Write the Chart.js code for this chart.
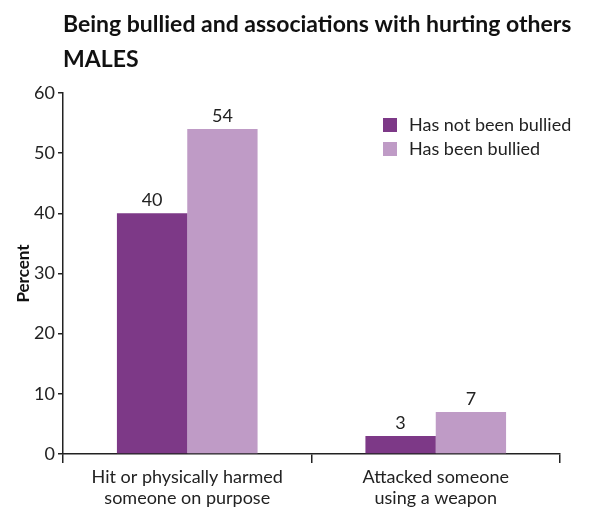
<!DOCTYPE html>
<html lang="en">
  <head>
    <meta charset="UTF-8" />
    <title>Being bullied and associations with hurting others</title>
    <style>
      body {
        margin: 0;
        background: #fff;
      }
      .chart-container {
        width: 589px;
        height: 509px;
      }
    </style>
  </head>
  <body>
    <div class="chart-container">
      <canvas id="bullyChart"></canvas>
    </div>

    <script src="https://cdn.jsdelivr.net/npm/chart.js"></script>
    <script>
      const categories = [
        ["Hit or physically harmed", "someone on purpose"],
        ["Attacked someone", "using a weapon"],
      ];
      const seriesNames = ["Has not been bullied", "Has been bullied"];
      const notBullied = [40, 3];
      const beenBullied = [54, 7];
      const yTicks = [0, 10, 20, 30, 40, 50, 60];

      const FONT = "Lato, 'Open Sans', sans-serif";
      const TEXT = "#222";

      // title lines, value labels above bars, and the legend box
      const extras = {
        id: "extras",
        afterDraw(chart) {
          const ctx = chart.ctx;
          const area = chart.chartArea;
          ctx.save();
          ctx.fillStyle = "#111";
          ctx.textAlign = "left";
          ctx.textBaseline = "alphabetic";
          ctx.font = "bold 23px " + FONT;
          ctx.fillText("Being bullied and associations with hurting others", area.left, 32);
          ctx.fillText("MALES", area.left, 67);

          ctx.fillStyle = TEXT;
          ctx.font = "18px " + FONT;
          ctx.textAlign = "center";
          ctx.textBaseline = "bottom";
          chart.data.datasets.forEach((ds, i) => {
            chart.getDatasetMeta(i).data.forEach((bar, j) => {
              ctx.fillText(ds.data[j], bar.x, bar.y - 4);
            });
          });

          ctx.textAlign = "left";
          ctx.textBaseline = "middle";
          chart.data.datasets.forEach((ds, i) => {
            const y = 125 + i * 24;
            ctx.fillStyle = ds.backgroundColor;
            ctx.fillRect(383, y - 7, 14, 14);
            ctx.fillStyle = TEXT;
            ctx.fillText(ds.label, 409, y);
          });
          ctx.restore();
        },
      };

      new Chart(document.getElementById("bullyChart"), {
        type: "bar",
        data: {
          labels: categories,
          datasets: [
            {
              label: seriesNames[0],
              data: notBullied,
              backgroundColor: "#7d3987",
            },
            {
              label: seriesNames[1],
              data: beenBullied,
              backgroundColor: "#bf9bc6",
            },
          ],
        },
        options: {
          responsive: true,
          maintainAspectRatio: false,
          animation: false,
          layout: { padding: { top: 93, right: 29, left: 13, bottom: 0 } },
          datasets: {
            bar: { categoryPercentage: 0.566, barPercentage: 1 },
          },
          plugins: {
            legend: { display: false },
            tooltip: { enabled: false },
          },
          scales: {
            x: {
              grid: {
                offset: true,
                drawOnChartArea: false,
                tickLength: 9,
                color: "#222",
                lineWidth: 1.5,
              },
              border: { color: "#222", width: 1.5 },
              ticks: {
                color: TEXT,
                font: { family: FONT, size: 18 },
                padding: 3,
                maxRotation: 0,
              },
              afterFit(scale) {
                scale.height = 55;
              },
            },
            y: {
              min: 0,
              max: 60,
              afterBuildTicks(scale) {
                scale.ticks = yTicks.map((v) => ({ value: v }));
              },
              grid: {
                drawOnChartArea: false,
                tickLength: 5,
                color: "#222",
                lineWidth: 1.5,
              },
              border: { color: "#222", width: 1.5 },
              ticks: {
                color: TEXT,
                font: { family: FONT, size: 18 },
                padding: 3,
              },
              title: {
                display: true,
                text: "Percent",
                color: "#111",
                font: { family: FONT, size: 17, weight: "bold" },
                padding: 0,
              },
              afterFit(scale) {
                scale.width = 50;
              },
            },
          },
        },
        plugins: [extras],
      });
    </script>
  </body>
</html>
